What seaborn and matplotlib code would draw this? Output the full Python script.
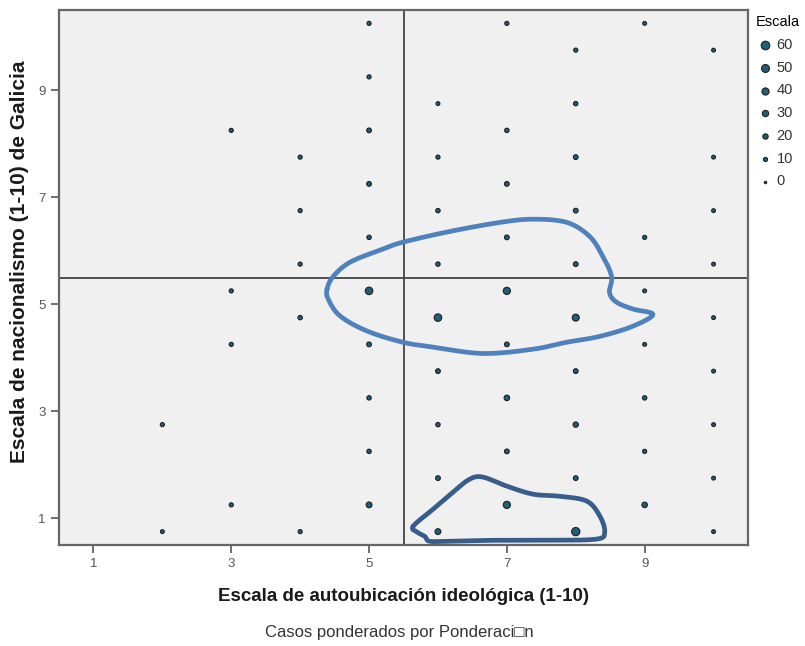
import numpy as np
import pandas as pd
import matplotlib
matplotlib.use("Agg")
import matplotlib.pyplot as plt
import seaborn as sns

# ideologia (x), nacionalismo (y) and weighted counts (Escala)
ideologia = [2, 2,
             3, 3, 3, 3,
             4, 4, 4, 4, 4,
             5, 5, 5, 5, 5, 5, 5, 5, 5, 5,
             6, 6, 6, 6, 6, 6, 6, 6, 6,
             7, 7, 7, 7, 7, 7, 7, 7, 7,
             8, 8, 8, 8, 8, 8, 8, 8, 8, 8,
             9, 9, 9, 9, 9, 9, 9,
             10, 10, 10, 10, 10, 10, 10, 10, 10]
nacionalismo = [2.75, 0.75,
                8.25, 5.25, 4.25, 1.25,
                7.75, 6.75, 5.75, 4.75, 0.75,
                10.25, 9.25, 8.25, 7.25, 6.25, 5.25, 4.25, 3.25, 2.25, 1.25,
                8.75, 7.75, 6.75, 5.75, 4.75, 3.75, 2.75, 1.75, 0.75,
                10.25, 8.25, 7.25, 6.25, 5.25, 4.25, 3.25, 2.25, 1.25,
                9.75, 8.75, 7.75, 6.75, 5.75, 4.75, 3.75, 2.75, 1.75, 0.75,
                10.25, 6.25, 5.25, 4.25, 3.25, 2.25, 1.25,
                9.75, 7.75, 6.75, 5.75, 4.75, 3.75, 2.75, 1.75, 0.75]
escala = [10, 8,
          10, 10, 10, 10,
          10, 10, 10, 12, 10,
          10, 10, 15, 15, 12, 45, 15, 12, 12, 25,
          8, 10, 12, 12, 45, 15, 12, 15, 25,
          10, 12, 15, 15, 40, 15, 22, 15, 40,
          10, 12, 15, 15, 15, 38, 15, 20, 15, 55,
          8, 10, 8, 8, 12, 10, 22,
          8, 8, 8, 8, 8, 8, 8, 8, 8]

legend_values = [60, 50, 40, 30, 20, 10, 0]
ticks = [1, 3, 5, 7, 9]
ref_line = 5.5

# hand drawn highlight loops (data coordinates)
loop_big_x = [4.39, 4.48, 4.73, 5.20, 5.49, 6.17, 6.90, 7.38, 7.87, 8.20, 8.39, 8.52, 8.49,
              8.59, 8.83, 9.12, 8.83, 8.35, 7.87, 7.38, 6.65, 5.93, 5.49, 4.97, 4.58, 4.41]
loop_big_y = [5.28, 5.52, 5.79, 6.03, 6.16, 6.36, 6.53, 6.59, 6.53, 6.27, 5.90, 5.52, 5.22,
              5.04, 4.91, 4.81, 4.59, 4.40, 4.29, 4.16, 4.08, 4.20, 4.29, 4.50, 4.78, 5.09]
loop_small_x = [5.64, 5.93, 6.22, 6.46, 6.65, 7.00, 7.38, 7.77, 8.16, 8.35, 8.42, 8.30,
                7.62, 6.90, 6.17, 5.88, 5.81, 5.70]
loop_small_y = [0.85, 1.17, 1.49, 1.73, 1.77, 1.60, 1.45, 1.41, 1.32, 1.04, 0.74, 0.61,
                0.59, 0.59, 0.57, 0.57, 0.66, 0.74]

df = pd.DataFrame({"x": ideologia, "y": nacionalismo, "Escala": escala})

plt.rcParams["font.family"] = ["Liberation Sans", "DejaVu Sans"]

size_range = (3, 38)


def smooth_loop(xs, ys, n=12):
    # closed Catmull-Rom curve through the points
    p = np.column_stack([xs, ys])
    k = len(p)
    out = []
    for i in range(k):
        p0, p1, p2, p3 = p[(i - 1) % k], p[i], p[(i + 1) % k], p[(i + 2) % k]
        for t in np.linspace(0, 1, n, endpoint=False):
            t2, t3 = t * t, t * t * t
            out.append(0.5 * (2 * p1 + (-p0 + p2) * t + (2 * p0 - 5 * p1 + 4 * p2 - p3) * t2
                              + (-p0 + 3 * p1 - 3 * p2 + p3) * t3))
    out.append(out[0])
    out = np.array(out)
    return out[:, 0], out[:, 1]


fig = plt.figure(figsize=(8.05, 6.46), dpi=100)
ax = fig.add_axes([59 / 805, 101 / 646, 689 / 805, 535 / 646])
ax.set_facecolor("#f0f0f0")

ax.axvline(ref_line, color="#444444", lw=1.3, zorder=1)
ax.axhline(ref_line, color="#444444", lw=1.3, zorder=1)

sns.scatterplot(data=df, x="x", y="y", size="Escala", sizes=size_range, size_norm=(0, 60),
                color="#1f6079", edgecolor="#1e1e1e", linewidth=0.8, legend=False,
                ax=ax, zorder=3)

bx, by = smooth_loop(loop_big_x, loop_big_y)
ax.plot(bx, by, color="#4f81bd", lw=3.4, solid_capstyle="round", zorder=4, clip_on=False)
sx, sy = smooth_loop(loop_small_x, loop_small_y)
ax.plot(sx, sy, color="#385d8a", lw=3.4, solid_capstyle="round", zorder=4, clip_on=False)

ax.set_xlim(0.5, 10.5)
ax.set_ylim(0.5, 10.5)
ax.set_xticks(ticks)
ax.set_yticks(ticks)
ax.tick_params(axis="both", direction="out", length=6, width=1.2, color="#555555",
               labelcolor="#555555", labelsize=9.5)
for s in ax.spines.values():
    s.set_color("#666666")
    s.set_linewidth(1.6)

ax.set_xlabel("Escala de autoubicación ideológica (1-10)", fontsize=13.5, fontweight="bold",
              color="#1a1a1a", labelpad=13)
ax.set_ylabel("Escala de nacionalismo (1-10) de Galicia", fontsize=15, fontweight="bold",
              color="#1a1a1a")
ax.yaxis.set_label_coords(-0.043, 0.529)

fig.text(399 / 805, 1 - 633 / 646, "Casos ponderados por Ponderaci\u25a1n", ha="center",
         va="center", fontsize=12, color="#333333")

# manual size legend using the same linear area mapping as seaborn
handles = []
for v in legend_values:
    s = size_range[0] + (size_range[1] - size_range[0]) * v / 60
    handles.append(ax.scatter([], [], s=s, color="#1f6079", edgecolor="#1e1e1e", linewidth=0.8))
leg = fig.legend(handles, [str(v) for v in legend_values], title="Escala",
                 loc="upper left", bbox_to_anchor=(746 / 805, 1 - 5 / 646), frameon=False,
                 fontsize=10.5, title_fontsize=10.5, handletextpad=0.2, handlelength=1.2,
                 labelspacing=0.6, borderpad=0.2)
leg._legend_box.align = "left"
for t in leg.get_texts():
    t.set_color("#333333")

fig.savefig("out.png", dpi=100)
